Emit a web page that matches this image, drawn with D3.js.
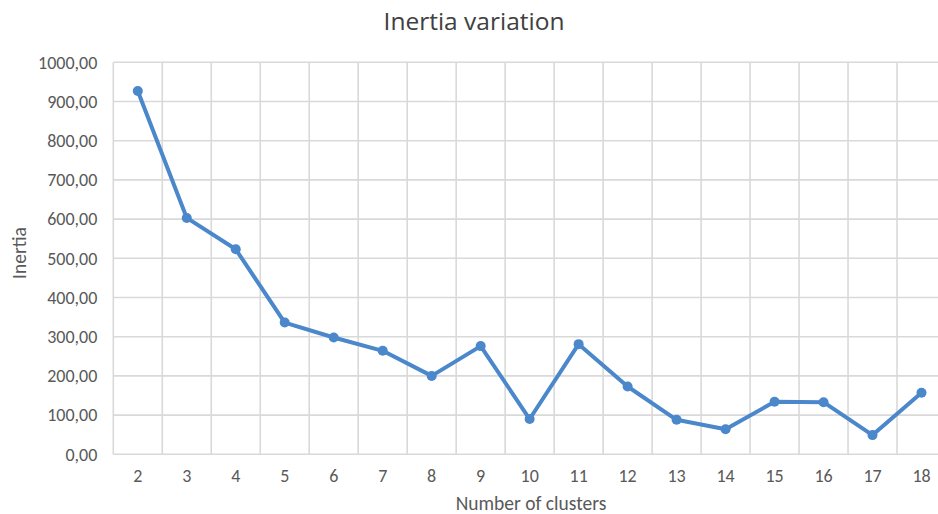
<!DOCTYPE html>
<html><head><meta charset="utf-8">
<script src="https://cdn.jsdelivr.net/npm/d3@7"></script>
<style>body{margin:0;background:#fff;overflow:hidden}</style>
</head><body><svg id="c" width="938" height="514"></svg>
<script>
const categories = ["2","3","4","5","6","7","8","9","10","11","12","13","14","15","16","17","18"];
const inertia = [927, 603, 523, 336, 298, 264, 200, 276, 90, 281, 173, 88, 64, 134, 133, 49, 157];
const yTicks = [0,100,200,300,400,500,600,700,800,900,1000];
const title = "Inertia variation";
const xTitle = "Number of clusters";
const yTitle = "Inertia";

const svg = d3.select("#c");
const m = {left:113.3, right:946, top:62.3, bottom:454.3};
const x = d3.scaleBand().domain(categories).range([m.left, m.right]);
const y = d3.scaleLinear().domain([0,1000]).range([m.bottom, m.top]);
const fmt = v => d3.format(".2f")(v).replace(".", ",");
const gridCol = "#d9d9d9";
const textCol = "#595959";
const font = "Carlito, 'Open Sans', sans-serif";

svg.append("g").selectAll("line").data(yTicks).join("line")
  .attr("x1", m.left).attr("x2", m.right)
  .attr("y1", d => y(d)).attr("y2", d => y(d))
  .attr("stroke", gridCol).attr("stroke-width", 1.6);
const bounds = categories.map(c => x(c)).concat([x(categories[categories.length-1]) + x.bandwidth()]);
svg.append("g").selectAll("line").data(bounds).join("line")
  .attr("x1", d => d).attr("x2", d => d)
  .attr("y1", m.top).attr("y2", m.bottom)
  .attr("stroke", gridCol).attr("stroke-width", 1.6);

const yAxis = d3.axisLeft(y).tickValues(yTicks).tickFormat(fmt).tickSize(0).tickPadding(16);
const gy = svg.append("g").attr("transform", `translate(${m.left},0)`).call(yAxis);
gy.select(".domain").remove();
gy.selectAll("text").attr("fill", textCol).attr("font-size", 18).attr("font-family", font);

const xAxis = d3.axisBottom(x).tickSize(0).tickPadding(15);
const gx = svg.append("g").attr("transform", `translate(0,${m.bottom})`).call(xAxis);
gx.select(".domain").remove();
gx.selectAll("text").attr("fill", textCol).attr("font-size", 18).attr("font-family", font);

const color = "#4a87cb";
const pts = categories.map((c,i) => [x(c) + x.bandwidth()/2, y(inertia[i])]);
svg.append("path").datum(pts)
  .attr("d", d3.line())
  .attr("fill", "none").attr("stroke", color).attr("stroke-width", 4)
  .attr("stroke-linejoin", "round").attr("stroke-linecap", "round");
svg.append("g").selectAll("circle").data(pts).join("circle")
  .attr("cx", d => d[0]).attr("cy", d => d[1]).attr("r", 5).attr("fill", color);

svg.append("text").attr("x", 474).attr("y", 29.5).attr("text-anchor", "middle")
  .attr("font-size", 24.5).attr("font-family", "'Open Sans', sans-serif").attr("fill", "#404040").text(title);
svg.append("text").attr("x", 531).attr("y", 510).attr("text-anchor", "middle")
  .attr("font-size", 19.5).attr("font-family", font).attr("fill", textCol).text(xTitle);
svg.append("text").attr("transform", "translate(26,253) rotate(-90)").attr("text-anchor", "middle")
  .attr("font-size", 19.5).attr("font-family", font).attr("fill", textCol).text(yTitle);
</script></body></html>
